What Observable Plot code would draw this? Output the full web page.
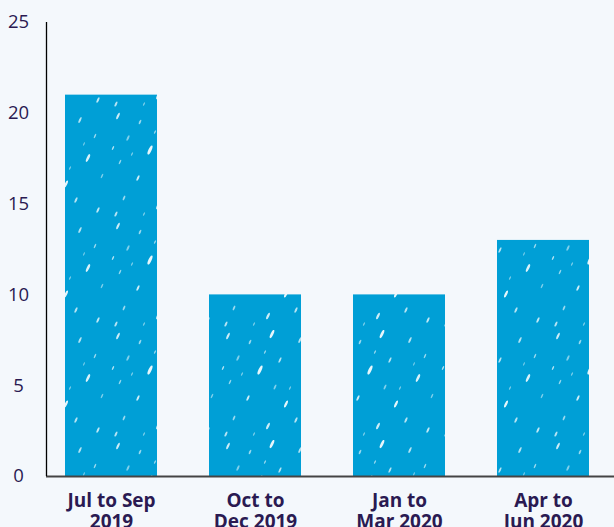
<!DOCTYPE html>
<html>
<head>
<meta charset="utf-8">
<script src="https://cdn.jsdelivr.net/npm/d3@7"></script>
<script src="https://cdn.jsdelivr.net/npm/@observablehq/plot@0.6"></script>
<style>
  html, body { margin: 0; padding: 0; background: #f4f8fc; }
  #chart { width: 614px; height: 527px; }
  svg { font-family: "Open Sans", "Noto Sans", sans-serif; }
</style>
</head>
<body>
<div id="chart"></div>
<script>
const categories = ["Jul to Sep\n2019", "Oct to\nDec 2019", "Jan to\nMar 2020", "Apr to\nJun 2020"];
const values = [21, 10, 10, 13];
const yTicks = [0, 5, 10, 15, 20, 25];

const data = categories.map((c, i) => ({category: c, value: values[i]}));

const textColor = "#2a1a52";

const plot = Plot.plot({
  width: 614,
  height: 527,
  marginTop: 22,
  marginBottom: 51,
  marginLeft: 46,
  marginRight: 0,
  style: {background: "transparent", color: textColor, fontFamily: "'Open Sans', 'Noto Sans', sans-serif"},
  x: {domain: categories, paddingInner: 0.361, paddingOuter: 0.145, align: 0.43},
  y: {domain: [0, 25]},
  marks: [
    Plot.barY(data, {x: "category", y: "value", fill: "url(#rain)"}),
    Plot.axisY({ticks: yTicks, tickSize: 0, tickPadding: 28, textAnchor: "middle", fontSize: 18.5, fill: textColor, label: null}),
    Plot.axisX({tickSize: 0, tickPadding: 15, fontSize: 19, fontWeight: "bold", fill: textColor, lineHeight: 1.12, label: null}),
    Plot.ruleY([0], {stroke: "#444", strokeWidth: 2}),
    Plot.ruleX([categories[0]], {dx: -65, stroke: "#000", strokeWidth: 1.3, y1: 0, y2: 25})
  ]
});

// rain-speckle pattern for the bars (decoration only)
const ns = "http://www.w3.org/2000/svg";
const defs = document.createElementNS(ns, "defs");
const pat = document.createElementNS(ns, "pattern");
pat.setAttribute("id", "rain");
pat.setAttribute("patternUnits", "userSpaceOnUse");
pat.setAttribute("width", "110");
pat.setAttribute("height", "110");
const base = document.createElementNS(ns, "rect");
base.setAttribute("width", "110"); base.setAttribute("height", "110"); base.setAttribute("fill", "#009fd6");
pat.appendChild(base);
const drops = [
  [8,6,1.1,3.5,0.8],[30,12,0.9,2.5,0.6],[52,4,1.4,4.5,0.9],[60,30,0.9,3,0.7],[18,28,1,3,0.5],
  [40,40,1.5,5,0.9],[10,52,0.8,2.5,0.6],[28,68,1,3,0.8],[55,57,0.9,2.8,0.5],[45,22,0.7,2,0.6],
  [3,38,0.8,2.2,0.7],[66,74,1.2,3.8,0.9],[22,44,0.7,2,0.5],[80,10,1,3.2,0.7],[95,26,0.8,2.4,0.6],
  [88,48,1.3,4.2,0.85],[102,66,0.8,2.5,0.5],[76,90,1,3,0.7],[48,96,1.2,3.6,0.8],[14,88,0.9,2.6,0.6],
  [34,104,0.7,2,0.5],[98,100,1,3,0.75],[70,58,0.7,2,0.5],[84,34,0.6,1.8,0.5],[6,104,1,2.8,0.7]
];
for (const [cx, cy, rx, ry, op] of drops) {
  const e = document.createElementNS(ns, "ellipse");
  e.setAttribute("cx", cx); e.setAttribute("cy", cy);
  e.setAttribute("rx", rx); e.setAttribute("ry", ry);
  e.setAttribute("fill", "#ffffff");
  e.setAttribute("opacity", op);
  e.setAttribute("transform", `rotate(25 ${cx} ${cy})`);
  pat.appendChild(e);
}
defs.appendChild(pat);
plot.insertBefore(defs, plot.firstChild);

document.getElementById("chart").appendChild(plot);
</script>
</body>
</html>
